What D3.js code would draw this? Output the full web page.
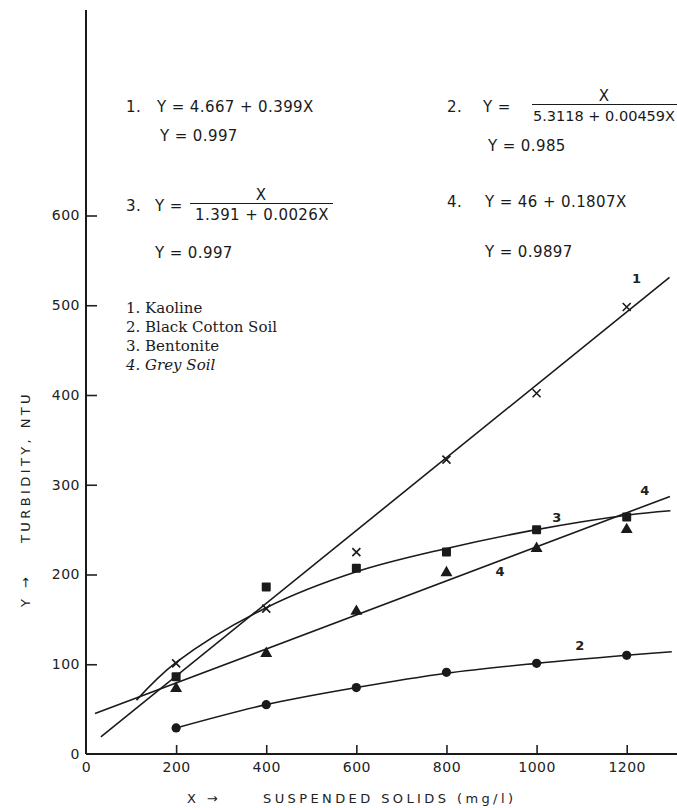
<!DOCTYPE html>
<html lang="en">
<head>
  <meta charset="UTF-8">
  <title>Turbidity vs suspended solids</title>
  <script src="https://d3js.org/d3.v7.min.js"></script>
  <style>
    * { margin: 0; padding: 0; box-sizing: border-box; }
    body { background: #fff; }
    svg { display: block; }
    .tick text { font-family: "DejaVu Sans", sans-serif; font-size: 14px; fill: #222; letter-spacing: 0.5px; }
    .eq { font-family: "DejaVu Sans", sans-serif; font-size: 15px; fill: #1a1a1a; letter-spacing: 0.4px; }
    .legend { font-family: "DejaVu Serif", serif; font-size: 15px; fill: #1a1a1a; }
    .title { font-family: "DejaVu Sans", sans-serif; font-size: 13px; fill: #222; letter-spacing: 3.4px; }
    .curve-label { font-family: "DejaVu Sans", sans-serif; font-size: 13px; font-weight: bold; fill: #222; }
  </style>
</head>
<body>
  <div id="chart"></div>
  <script>
    // measured points (mg/l vs NTU)
    const solids = [200, 400, 600, 800, 1000, 1200];
    const kaoline = [101, 162, 225, 328, 402, 498];
    const blackCotton = [29, 55, 74, 91, 101, 110];
    const bentonite = [86, 186, 207, 225, 250, 264];
    const greySoil = [73, 112, 159, 202, 229, 250];

    // fitted curves as drawn
    const fit1X = [33, 1295];
    const fit1Y = [19, 531];
    const fit2X = [200, 400, 600, 800, 1000, 1200, 1300];
    const fit2Y = [29, 55, 74, 90, 101, 110, 114];
    const fit3X = [112, 200, 400, 600, 800, 1000, 1200, 1297];
    const fit3Y = [60, 102, 163, 203, 229, 250, 266, 271];
    const fit4X = [20, 1296];
    const fit4Y = [45, 287];

    const xTicks = [0, 200, 400, 600, 800, 1000, 1200];
    const yTicks = [0, 100, 200, 300, 400, 500, 600];

    const legendItems = ["1. Kaoline", "2. Black Cotton Soil", "3. Bentonite", "4. Grey Soil"];

    const W = 677, H = 808;
    const svg = d3.select("#chart").append("svg")
      .attr("width", W).attr("height", H);

    const x = d3.scaleLinear().domain([0, 1200]).range([86, 626.7]);
    const y = d3.scaleLinear().domain([0, 600]).range([754, 215.5]);

    // axes
    svg.append("g")
      .attr("transform", `translate(0,${y(0)})`)
      .call(d3.axisBottom(x).tickValues(xTicks).tickFormat(d3.format("d"))
        .tickSizeInner(-9).tickSizeOuter(0).tickPadding(8))
      .call(g => g.select(".domain").remove())
      .call(g => g.selectAll(".tick line").attr("stroke", "#222").attr("stroke-width", 1.6))
      .call(g => g.selectAll(".tick").filter(d => d === 0).select("line").remove());

    svg.append("g")
      .attr("transform", `translate(${x(0)},0)`)
      .call(d3.axisLeft(y).tickValues(yTicks).tickFormat(d3.format("d"))
        .tickSizeInner(-11).tickSizeOuter(0).tickPadding(6))
      .call(g => g.select(".domain").remove())
      .call(g => g.selectAll(".tick line").attr("stroke", "#222").attr("stroke-width", 1.6))
      .call(g => g.selectAll(".tick").filter(d => d === 0).select("line").remove());

    svg.append("line")
      .attr("x1", x(0)).attr("x2", W)
      .attr("y1", y(0)).attr("y2", y(0))
      .attr("stroke", "#1a1a1a").attr("stroke-width", 2);
    svg.append("line")
      .attr("x1", x(0)).attr("x2", x(0))
      .attr("y1", 10).attr("y2", y(0))
      .attr("stroke", "#1a1a1a").attr("stroke-width", 2);

    // axis titles
    svg.append("text").attr("class", "title")
      .attr("x", 187).attr("y", 803).text("X →");
    svg.append("text").attr("class", "title")
      .attr("x", 263).attr("y", 803).text("SUSPENDED SOLIDS (mg/l)");

    const yt = svg.append("g").attr("transform", "translate(30,0) rotate(-90)");
    yt.append("text").attr("class", "title")
      .attr("x", -607).attr("y", 0).text("Y →");
    yt.append("text").attr("class", "title")
      .attr("x", -543).attr("y", 0).text("TURBIDITY, NTU");

    // fitted curves
    const line = d3.line().x(d => x(d[0])).y(d => y(d[1]));
    const smooth = d3.line().x(d => x(d[0])).y(d => y(d[1])).curve(d3.curveCatmullRom.alpha(0.5));
    const curves = [
      { pts: d3.zip(fit1X, fit1Y), gen: line },
      { pts: d3.zip(fit2X, fit2Y), gen: smooth },
      { pts: d3.zip(fit3X, fit3Y), gen: smooth },
      { pts: d3.zip(fit4X, fit4Y), gen: line }
    ];
    svg.selectAll(".fit")
      .data(curves)
      .enter()
      .append("path")
      .attr("class", "fit")
      .attr("d", c => c.gen(c.pts))
      .attr("fill", "none")
      .attr("stroke", "#1a1a1a")
      .attr("stroke-width", 1.6);

    // markers
    svg.selectAll(".kao")
      .data(d3.zip(solids, kaoline))
      .enter()
      .append("path")
      .attr("class", "kao")
      .attr("transform", d => `translate(${x(d[0])},${y(d[1])})`)
      .attr("d", "M-4,-4L4,4M4,-4L-4,4")
      .attr("stroke", "#1a1a1a")
      .attr("stroke-width", 1.6);

    svg.selectAll(".bcs")
      .data(d3.zip(solids, blackCotton))
      .enter()
      .append("circle")
      .attr("class", "bcs")
      .attr("cx", d => x(d[0])).attr("cy", d => y(d[1]))
      .attr("r", 4.6)
      .attr("fill", "#1a1a1a");

    svg.selectAll(".ben")
      .data(d3.zip(solids, bentonite))
      .enter()
      .append("rect")
      .attr("class", "ben")
      .attr("x", d => x(d[0]) - 4.5).attr("y", d => y(d[1]) - 4.5)
      .attr("width", 9).attr("height", 9)
      .attr("rx", 1)
      .attr("fill", "#1a1a1a");

    svg.selectAll(".grey")
      .data(d3.zip(solids, greySoil))
      .enter()
      .append("path")
      .attr("class", "grey")
      .attr("transform", d => `translate(${x(d[0])},${y(d[1])})`)
      .attr("d", d3.symbol().type(d3.symbolTriangle).size(62))
      .attr("fill", "#1a1a1a");

    // curve numbers
    const curveLabels = [
      { t: "1", v: [1222, 530] },
      { t: "2", v: [1096, 121] },
      { t: "3", v: [1045, 264] },
      { t: "4", v: [1240, 294] },
      { t: "4", v: [919, 203] }
    ];
    svg.selectAll(".curve-label")
      .data(curveLabels)
      .enter()
      .append("text")
      .attr("class", "curve-label")
      .attr("x", d => x(d.v[0])).attr("y", d => y(d.v[1]))
      .attr("dy", "0.35em")
      .attr("text-anchor", "middle")
      .text(d => d.t);

    // regression equations
    const eq = (tx, ty, s, anchor) => svg.append("text").attr("class", "eq")
      .attr("x", tx).attr("y", ty).attr("text-anchor", anchor || "start").text(s);

    eq(126, 112, "1.");
    eq(157, 112, "Y = 4.667 + 0.399X");
    eq(160, 141, "Y = 0.997");

    eq(447, 112, "2.");
    eq(483, 112, "Y  =");
    eq(604, 101, "X", "middle");
    svg.append("line").attr("x1", 532).attr("x2", 677).attr("y1", 104.5).attr("y2", 104.5)
      .attr("stroke", "#1a1a1a").attr("stroke-width", 1.2);
    eq(533, 121, "5.3118 + 0.00459X")
      .style("font-size", "14px").style("letter-spacing", "0px")
      .attr("textLength", 142).attr("lengthAdjust", "spacingAndGlyphs");
    eq(488, 151, "Y =  0.985");

    eq(126, 211, "3.");
    eq(155, 211, "Y  =");
    eq(261, 200, "X", "middle");
    svg.append("line").attr("x1", 190).attr("x2", 333).attr("y1", 203.5).attr("y2", 203.5)
      .attr("stroke", "#1a1a1a").attr("stroke-width", 1.2);
    eq(262, 220, "1.391 + 0.0026X", "middle");
    eq(155, 258, "Y  =  0.997");

    eq(447, 207, "4.");
    eq(485, 207, "Y  = 46 + 0.1807X");
    eq(485, 257, "Y  = 0.9897");

    // legend
    svg.selectAll(".legend")
      .data(legendItems)
      .enter()
      .append("text")
      .attr("class", "legend")
      .attr("x", 126)
      .attr("y", (d, i) => 313 + i * 19)
      .style("font-style", (d, i) => i === 3 ? "italic" : "normal")
      .text(d => d);
  </script>
</body>
</html>
